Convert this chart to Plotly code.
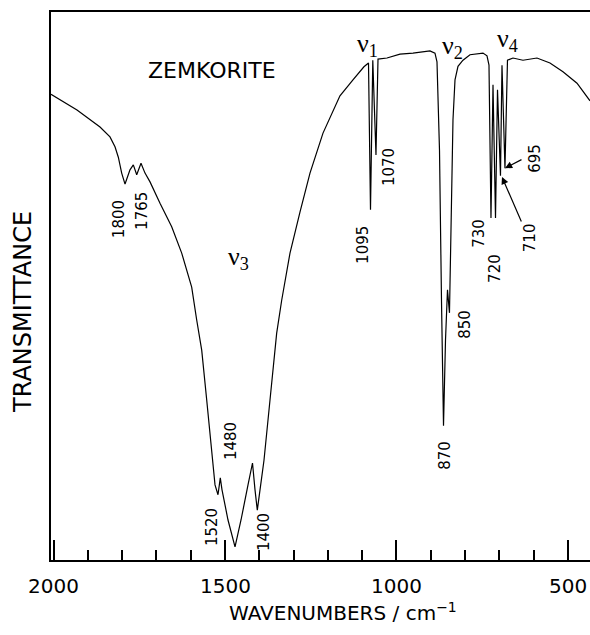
import plotly.graph_objects as go

# ---- spectrum (wavenumber in cm^-1, transmittance in % of plot height) ----
wavenumber = [2007.3, 1931.5, 1864.4, 1835.3, 1820.7, 1811.0, 1801.2, 1791.5, 1777.0, 1767.3,
              1757.4, 1744.9, 1733.2, 1718.6, 1689.5, 1655.4, 1626.2, 1597.1, 1582.5, 1567.9,
              1553.3, 1538.8, 1529.1, 1520.4, 1513.7, 1508.7, 1491.2, 1470.8, 1453.3, 1432.9,
              1419.8, 1412.5, 1405.8, 1397.9, 1386.3, 1368.8, 1349.3, 1334.7, 1310.5, 1281.4,
              1252.2, 1214.3, 1164.8, 1126.9, 1094.9, 1081.6, 1075.8, 1069.1, 1059.8, 1053.9,
              1027.7, 989.8, 951.9, 902.4, 887.8, 881.9, 874.6, 868.8, 862.9, 857.1,
              851.3, 845.5, 839.6, 835.3, 829.4, 820.7, 806.1, 785.7, 747.8, 736.1,
              730.3, 724.5, 718.6, 711.3, 705.5, 696.8, 692.4, 683.7, 676.4, 660.3,
              631.2, 590.4, 552.5, 514.6, 473.7, 444.6, 435.8]
transmittance = [85.0, 82.1, 79.0, 77.2, 75.4, 73.5, 70.6, 68.6, 71.2, 72.1,
                 70.3, 72.4, 70.6, 69.0, 65.1, 60.8, 56.0, 49.8, 43.8, 38.3,
                 29.2, 20.1, 13.7, 11.9, 15.0, 12.8, 7.3, 2.4, 7.3, 13.7,
                 17.7, 12.8, 9.1, 12.8, 18.2, 29.2, 41.4, 47.4, 56.0, 63.5,
                 70.6, 77.9, 84.7, 87.6, 90.0, 90.7, 63.9, 91.2, 73.9, 91.4,
                 91.6, 92.3, 92.5, 92.9, 92.5, 90.9, 74.8, 47.4, 24.5, 40.1,
                 49.3, 45.1, 65.7, 80.3, 87.6, 90.1, 91.2, 92.2, 92.5, 92.0,
                 90.3, 62.4, 86.7, 62.4, 85.8, 70.1, 90.3, 71.5, 91.2, 91.6,
                 91.2, 91.6, 90.7, 89.1, 87.0, 84.5, 83.8]

# ---- axis ticks ----
tick_values = [2000, 1500, 1000, 500]
tick_labels = ["2000", "1500", "1000", "500"]

# ---- peak labels (text, wavenumber position, transmittance position) ----
peak_texts = ["1800", "1765", "1520", "1480", "1400", "1095", "1070",
              "870", "850", "730", "720", "710", "695"]
peak_x = [1809.0, 1742.0, 1537.9, 1482.5, 1386.3, 1097.6, 1021.8,
          858.6, 800.3, 759.5, 712.8, 610.8, 596.2]
peak_y = [62.2, 63.7, 6.0, 21.7, 5.1, 57.5, 71.7,
          19.2, 43.1, 59.7, 53.3, 58.9, 73.4]

# ---- band assignment labels ----
band_texts = ["ν<sub>1</sub>", "ν<sub>2</sub>", "ν<sub>3</sub>", "ν<sub>4</sub>"]
band_x = [1083.1, 835.3, 1462.1, 674.9]
band_y = [94.0, 93.6, 55.1, 94.9]

# ---- arrows (head -> tail) ----
arrow_head_x = [683.7, 692.4]
arrow_head_y = [71.5, 69.9]
arrow_tail_x = [631.2, 634.1]
arrow_tail_y = [73.2, 61.5]

FONT = "DejaVu Sans"

fig = go.Figure()
fig.add_trace(go.Scatter(x=wavenumber, y=transmittance, mode="lines",
                         line=dict(color="black", width=1.2), hoverinfo="skip",
                         showlegend=False))

annotations = []
for t, x, y in zip(peak_texts, peak_x, peak_y):
    annotations.append(dict(x=x, y=y, xref="x", yref="y", text=t, showarrow=False,
                            textangle=-90, xanchor="center", yanchor="middle",
                            font=dict(family=FONT, size=15, color="black")))
for t, x, y in zip(band_texts, band_x, band_y):
    annotations.append(dict(x=x, y=y, xref="x", yref="y", text=t, showarrow=False,
                            xanchor="center", yanchor="middle",
                            font=dict(family="Liberation Serif", size=26, color="black")))
for hx, hy, tx, ty in zip(arrow_head_x, arrow_head_y, arrow_tail_x, arrow_tail_y):
    annotations.append(dict(x=hx, y=hy, ax=tx, ay=ty, xref="x", yref="y",
                            axref="x", ayref="y", text="", showarrow=True,
                            arrowhead=2, arrowsize=1.2, arrowwidth=1.2,
                            arrowcolor="black"))
# x tick labels placed under their ticks
for v, t in zip(tick_values, tick_labels):
    annotations.append(dict(x=v, y=-0.047, xref="x", yref="paper", text=t,
                            showarrow=False, xanchor="center", yanchor="middle",
                            font=dict(family=FONT, size=20, color="black")))

annotations.append(dict(x=1537.9, y=89.4, xref="x", yref="y", text="ZEMKORITE",
                        showarrow=False, xanchor="center", yanchor="middle",
                        font=dict(family=FONT, size=22, color="black")))
annotations.append(dict(x=0.5417, y=-0.0949, xref="paper", yref="paper",
                        text="WAVENUMBERS / cm<sup>−1</sup>", showarrow=False,
                        xanchor="center", yanchor="middle",
                        font=dict(family=FONT, size=20, color="black")))
annotations.append(dict(x=-0.052, y=0.4526, xref="paper", yref="paper",
                        text="TRANSMITTANCE", showarrow=False, textangle=-90,
                        xanchor="center", yanchor="middle",
                        font=dict(family=FONT, size=24, color="black")))

fig.update_layout(
    width=590, height=635,
    margin=dict(l=51, r=0, t=12, b=75),
    paper_bgcolor="white", plot_bgcolor="white",
    annotations=annotations,
    xaxis=dict(range=[2007.3, 435.8], showgrid=False, zeroline=False,
               showline=True, linecolor="black", linewidth=1.8, mirror=True,
               ticks="inside", ticklen=20, tickwidth=1.5, tickcolor="black",
               tickvals=tick_values, showticklabels=False,
               minor=dict(dtick=100, tick0=0, ticks="inside", ticklen=10,
                          tickwidth=1.5, tickcolor="black", showgrid=False)),
    yaxis=dict(range=[0, 100], showgrid=False, zeroline=False,
               showline=True, linecolor="black", linewidth=2,
               showticklabels=False, ticks=""),
)

fig.write_html(
    "out.html",
    config={"displayModeBar": False},
    post_script="document.body.style.margin='0';document.body.style.overflow='hidden';",
)
